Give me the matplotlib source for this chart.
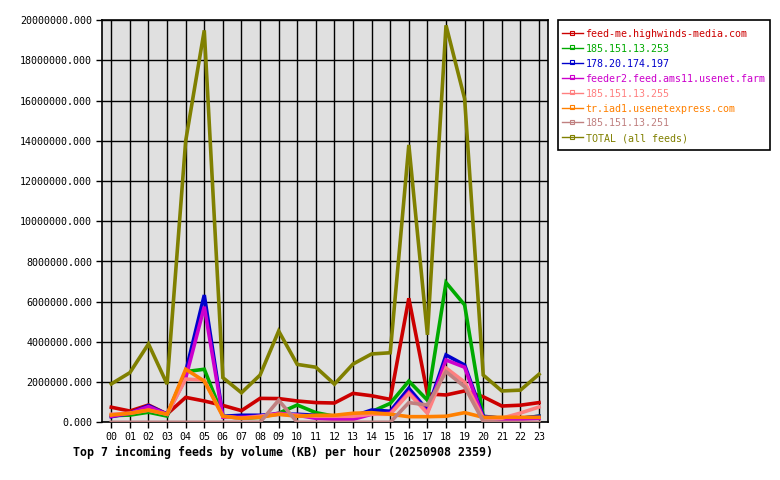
import matplotlib
matplotlib.use("Agg")
import matplotlib.pyplot as plt
from matplotlib.lines import Line2D
from matplotlib.patches import Rectangle

hours = ["%02d" % h for h in range(24)]

series_names = [
    "feed-me.highwinds-media.com",
    "185.151.13.253",
    "178.20.174.197",
    "feeder2.feed.ams11.usenet.farm",
    "185.151.13.255",
    "tr.iad1.usenetexpress.com",
    "185.151.13.251",
    "TOTAL (all feeds)",
]
series_colors = ["#cc0000", "#00aa00", "#0000cc", "#cc00cc",
                 "#ff8080", "#ff8000", "#c08080", "#808000"]

# values in KB per hour
feed_me = [750000, 560000, 860000, 410000, 1240000, 1060000, 840000, 580000,
           1190000, 1180000, 1060000, 980000, 960000, 1440000, 1320000, 1140000,
           6170000, 1410000, 1360000, 1560000, 1270000, 810000, 850000, 980000]
ip_253 = [330000, 360000, 500000, 310000, 2520000, 2640000, 310000, 200000,
          250000, 450000, 860000, 480000, 300000, 300000, 530000, 940000,
          2050000, 1100000, 6950000, 5840000, 280000, 200000, 200000, 300000]
ip_197 = [280000, 450000, 830000, 400000, 2500000, 6330000, 300000, 350000,
          350000, 400000, 400000, 350000, 200000, 300000, 610000, 550000,
          1690000, 600000, 3350000, 2850000, 300000, 200000, 200000, 300000]
feeder2 = [300000, 450000, 780000, 400000, 2200000, 5750000, 250000, 250000,
           300000, 450000, 350000, 200000, 150000, 150000, 400000, 450000,
           1500000, 500000, 3100000, 2740000, 200000, 150000, 150000, 200000]
ip_255 = [400000, 450000, 600000, 400000, 2150000, 2100000, 300000, 200000,
          300000, 400000, 350000, 300000, 300000, 300000, 400000, 400000,
          1440000, 450000, 2700000, 2000000, 200000, 200000, 460000, 760000]
usenetexpress = [360000, 450000, 610000, 400000, 2640000, 2050000, 300000, 200000,
                 250000, 400000, 300000, 350000, 350000, 450000, 480000, 400000,
                 280000, 280000, 300000, 480000, 250000, 250000, 250000, 250000]
ip_251 = [0, 0, 0, 0, 0, 0, 0, 0,
          0, 1100000, 0, 0, 0, 0, 0, 0,
          980000, 860000, 2520000, 1770000, 50000, 0, 0, 0]
total = [1910000, 2470000, 3900000, 1900000, 14000000, 19500000, 2220000, 1470000,
         2350000, 4540000, 2880000, 2740000, 1900000, 2900000, 3400000, 3460000,
         13800000, 4350000, 19750000, 16100000, 2350000, 1560000, 1600000, 2390000]

all_series = [feed_me, ip_253, ip_197, feeder2, ip_255, usenetexpress, ip_251, total]

y_ticks = [i * 2000000 for i in range(11)]

W, H = 780, 480
fig = plt.figure(figsize=(W / 100, H / 100), dpi=100)
fig.patch.set_facecolor("white")
mono = "DejaVu Sans Mono"

def fx(px):
    return px / W

def fy(py):
    return 1 - py / H

ax = fig.add_axes([fx(102), fy(422.3), (548.3 - 102) / W, (422.3 - 20.3) / H])
ax.set_facecolor("#e0e0e0")
x = list(range(24))
for vals, col, name in zip(all_series, series_colors, series_names):
    ax.plot(x, vals, color=col, lw=2.6, solid_joinstyle="miter", label=name, zorder=3)

ax.set_xlim(-0.5, 23.5)
ax.set_ylim(0, 20000000)
ax.set_xticks(x)
ax.set_xticklabels(hours, fontfamily=mono, fontsize=7.2)
ax.set_yticks(y_ticks)
ax.set_yticklabels(["%.3f" % v for v in y_ticks], fontfamily=mono, fontsize=7.2)
ax.grid(True, color="black", lw=1.0, zorder=1)
ax.set_axisbelow(True)
ax.tick_params(axis="both", direction="out", length=4, width=1, color="black", pad=3)
for s in ax.spines.values():
    s.set_linewidth(1.2)
    s.set_color("black")

fig.text(fx(73), fy(452), "Top 7 incoming feeds by volume (KB) per hour (20250908 2359)",
         fontfamily=mono, fontweight="bold", fontsize=8.4, va="center", ha="left")

# legend drawn in figure pixel coordinates
box = Rectangle((fx(558.3), fy(150)), (770 - 558.3) / W, (150 - 20) / H,
                transform=fig.transFigure, facecolor="white", edgecolor="black",
                lw=1.2, zorder=5)
fig.add_artist(box)
row0, step = 33.3, 14.86
for i, (name, col) in enumerate(zip(series_names, series_colors)):
    yy = row0 + i * step
    fig.add_artist(Line2D([fx(562), fx(582.7)], [fy(yy), fy(yy)], transform=fig.transFigure,
                          color=col, lw=1.0, zorder=6))
    fig.add_artist(Line2D([fx(572.3)], [fy(yy - 0.8)], transform=fig.transFigure,
                          color=col, marker="s", markersize=2.2, markerfacecolor="none",
                          markeredgecolor=col, markeredgewidth=0.8, lw=0, zorder=6))
    fig.text(fx(585.5), fy(yy), name, color=col, fontfamily=mono, fontsize=7.2,
             va="center_baseline", ha="left", zorder=7)

fig.savefig("out.png", dpi=100)
